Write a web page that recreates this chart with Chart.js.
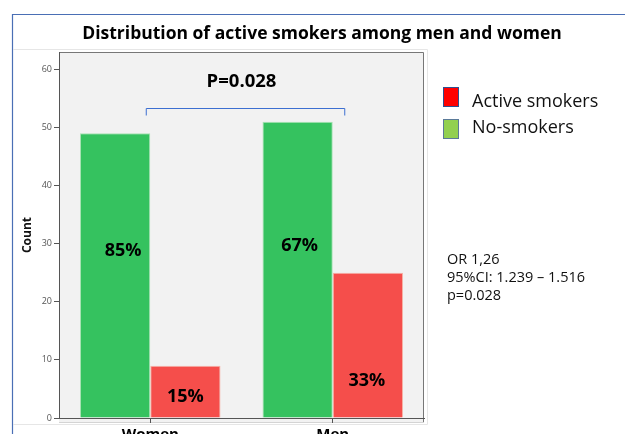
<!DOCTYPE html>
<html>
<head>
<meta charset="utf-8">
<script src="https://cdn.jsdelivr.net/npm/chart.js@4"></script>
<style>
  html, body { margin: 0; padding: 0; background: #fff; overflow: hidden; }
  canvas { display: block; }
</style>
</head>
<body>
<canvas id="bars" width="625" height="450" style="width:625px;height:450px"></canvas>
<script>
// data
var groups = ['Women', 'Men'];
var noSmokers = [49, 51];
var activeSmokers = [9, 25];
var noSmokersPct = ['85%', '67%'];
var activeSmokersPct = ['15%', '33%'];
var legendNames = ['Active smokers', 'No-smokers'];
var notes = ['OR 1,26', '95%CI: 1.239 \u2013 1.516', 'p=0.028'];
var pText = 'P=0.028';

Chart.defaults.font.family = "'Open Sans'";

// frame, grey panel, labels, bracket, legend, notes
var decor = {
    id: 'decor',
    afterLayout: function (chart) {
        var t = chart.titleBlock;
        if (t) { t.left = 19; t.right = 625; t.width = 606; }
    },
    beforeDraw: function (chart) {
        var c = chart.ctx, a = chart.chartArea;
        c.save();
        // outer slide frame
        c.strokeStyle = '#4a6fb5';
        c.lineWidth = 1.2;
        c.beginPath();
        c.moveTo(12.5, 460); c.lineTo(12.5, 14.5); c.lineTo(630, 14.5);
        c.stroke();
        // faint panel line
        c.strokeStyle = '#e6e6e6';
        c.lineWidth = 1;
        c.beginPath();
        c.moveTo(13, 49.5); c.lineTo(427.5, 49.5); c.lineTo(427.5, 424.5); c.lineTo(13, 424.5);
        c.stroke();
        // grey plot panel
        c.fillStyle = '#f2f2f2';
        c.fillRect(a.left, a.top, a.right - a.left, a.bottom - a.top + 4);
        c.strokeStyle = '#777';
        c.beginPath();
        c.moveTo(a.left, a.top + 0.5); c.lineTo(a.right - 0.5, a.top + 0.5); c.lineTo(a.right - 0.5, a.bottom + 4);
        c.stroke();
        c.strokeStyle = '#d4d4d4';
        c.beginPath();
        c.moveTo(a.left, a.bottom + 4.5); c.lineTo(a.right, a.bottom + 4.5);
        c.stroke();
        c.restore();
    },
    afterDatasetsDraw: function (chart, args, opts) {
        var c = chart.ctx, y = chart.scales.y;
        c.save();
        c.fillStyle = '#000';
        c.font = "bold 18px 'Open Sans'";
        c.textAlign = 'center';
        c.textBaseline = 'middle';
        [noSmokersPct, activeSmokersPct].forEach(function (txt, d) {
            chart.getDatasetMeta(d).data.forEach(function (bar, i) {
                c.fillText(txt[i], bar.x + opts.dx[d][i], y.getPixelForValue(opts.at[d][i]));
            });
        });
        c.restore();
    },
    afterDraw: function (chart) {
        var c = chart.ctx, x = chart.scales.x, y = chart.scales.y;
        c.save();
        // significance bracket
        var x0 = x.getPixelForValue(0) - 4, x1 = x.getPixelForValue(1) + 12;
        var by = Math.round(y.getPixelForValue(53.3)) + 0.5;
        c.strokeStyle = '#3d6fd1';
        c.lineWidth = 1;
        c.beginPath();
        c.moveTo(x0, by + 7); c.lineTo(x0, by); c.lineTo(x1, by); c.lineTo(x1, by + 7);
        c.stroke();
        c.fillStyle = '#000';
        c.font = "bold 18.5px 'Open Sans'";
        c.textAlign = 'center';
        c.textBaseline = 'middle';
        c.fillText(pText, (x0 + x1) / 2 - 4, y.getPixelForValue(57.8));
        // legend
        var colors = ['#ff0000', '#92d050'];
        var edges = ['#2f4f8f', '#5b7a99'];
        var textY = [102, 128];
        c.textAlign = 'left';
        c.font = "18px 'Open Sans'";
        legendNames.forEach(function (name, i) {
            var top = 87 + i * 32;
            c.fillStyle = colors[i];
            c.fillRect(443, top, 16, 20);
            c.strokeStyle = edges[i];
            c.strokeRect(443.5, top + 0.5, 15, 19);
            c.fillStyle = '#111';
            c.fillText(name, 472, textY[i]);
        });
        // statistics note
        c.font = "14.5px 'Open Sans'";
        notes.forEach(function (line, i) {
            c.fillText(line, 447, 260 + i * 18);
        });
        c.restore();
    }
};

var chart = new Chart(document.getElementById('bars'), {
    type: 'bar',
    data: {
        labels: groups,
        datasets: [{
            label: 'No-smokers',
            data: noSmokers,
            backgroundColor: '#35c25f',
            borderColor: '#a9e3b4',
            borderWidth: 1
        }, {
            label: 'Active smokers',
            data: activeSmokers,
            backgroundColor: '#f54e4b',
            borderColor: '#f6b3a6',
            borderWidth: 1
        }]
    },
    options: {
        responsive: false,
        animation: false,
        layout: { padding: { top: 14, left: 19, right: 201, bottom: 0 } },
        datasets: { bar: { categoryPercentage: 0.77, barPercentage: 1 } },
        plugins: {
            legend: { display: false },
            tooltip: { enabled: false },
            title: {
                display: true,
                text: 'Distribution of active smokers among men and women',
                color: '#000',
                font: { size: 17.5, weight: 'bold' },
                padding: { top: 10, bottom: 7 }
            },
            decor: {
                at: [[28.7, 29.7], [3.7, 6.4]],
                dx: [[8, 2], [0, -1]]
            }
        },
        scales: {
            x: {
                afterFit: function (s) { s.height = 32; },
                grid: { display: true, offset: false, drawOnChartArea: false, drawTicks: true, tickLength: 5, color: '#555' },
                border: { display: true, color: '#555' },
                ticks: { color: '#000', padding: 3, font: { size: 15, weight: 'bold' } }
            },
            y: {
                min: 0,
                max: 63,
                afterFit: function (s) { s.width = 40; },
                afterBuildTicks: function (s) {
                    s.ticks = s.ticks.filter(function (t) { return t.value % 10 === 0; });
                },
                grid: { display: true, drawOnChartArea: false, drawTicks: true, tickLength: 5, color: '#555' },
                border: { display: true, color: '#555' },
                ticks: { stepSize: 10, color: '#555', padding: 2, font: { size: 9 } },
                title: { display: true, text: 'Count', color: '#111', padding: { top: 1, bottom: 0 }, font: { size: 12, weight: 'bold' } }
            }
        }
    },
    plugins: [decor]
});
</script>
</body>
</html>
